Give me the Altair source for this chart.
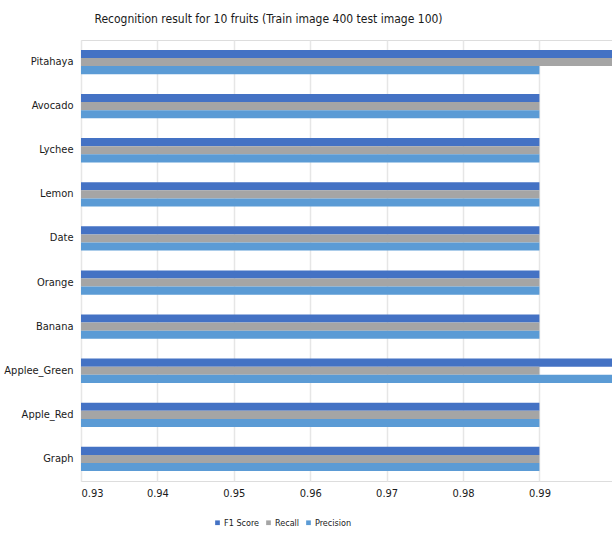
import altair as alt
import pandas as pd

fruits = ["Pitahaya", "Avocado", "Lychee", "Lemon", "Date", "Orange", "Banana",
          "Applee_Green", "Apple_Red", "Graph"]
f1_score = [1.00, 0.99, 0.99, 0.99, 0.99, 0.99, 0.99, 1.00, 0.99, 0.99]
recall = [1.00, 0.99, 0.99, 0.99, 0.99, 0.99, 0.99, 0.99, 0.99, 0.99]
precision = [0.99, 0.99, 0.99, 0.99, 0.99, 0.99, 0.99, 1.00, 0.99, 0.99]
metrics = ["F1 Score", "Recall", "Precision"]
colors = ["#4472C4", "#A5A5A5", "#5B9BD5"]
x_ticks = [0.93, 0.94, 0.95, 0.96, 0.97, 0.98, 0.99]

rows = []
for i, f in enumerate(fruits):
    for m, vals in zip(metrics, [f1_score, recall, precision]):
        rows.append({"Fruit": f, "Metric": m, "Value": vals[i]})
df = pd.DataFrame(rows)

FONT = "'DejaVu Sans Condensed', 'Liberation Sans', sans-serif"

chart = alt.Chart(df).mark_bar(clip=True).encode(
    y=alt.Y("Fruit:N", sort=fruits, title=None,
            scale=alt.Scale(paddingInner=0.45, paddingOuter=0.225),
            axis=alt.Axis(labelFont=FONT, labelFontSize=11, labelColor="#1a1a1a",
                          ticks=False, domain=False, labelPadding=8, grid=False)),
    yOffset=alt.YOffset("Metric:N", sort=metrics),
    x=alt.X("Value:Q", title=None,
            scale=alt.Scale(domain=[0.93, 0.9995], zero=False, nice=False),
            axis=alt.Axis(values=x_ticks, format=".2f", labelFont=FONT, labelFontSize=11,
                          labelColor="#1a1a1a", ticks=False, domain=False,
                          gridColor="#e6e6e6", gridWidth=1.5, labelPadding=6)),
    color=alt.Color("Metric:N", sort=metrics,
                    scale=alt.Scale(domain=metrics, range=colors),
                    legend=alt.Legend(orient="none", direction="horizontal", title=None,
                                      legendX=132, legendY=478,
                                      symbolType="square", symbolSize=22,
                                      labelFont=FONT, labelFontSize=9,
                                      labelColor="#1a1a1a", columnPadding=4,
                                      labelOffset=2, symbolStrokeWidth=0)),
).properties(
    width=531, height=441,
    title=alt.TitleParams("Recognition result for 10 fruits (Train image 400 test image 100)",
                          font=FONT, fontSize=12, fontWeight="normal", color="#1a1a1a",
                          anchor="middle", dx=-78, offset=14),
    autosize=alt.AutoSizeParams(type="none"),
    padding={"left": 81, "top": 40, "right": 0, "bottom": 52},
).configure_view(stroke=None).configure(background="white")

chart.save("out.html", embed_options={"renderer": "svg", "actions": False})
